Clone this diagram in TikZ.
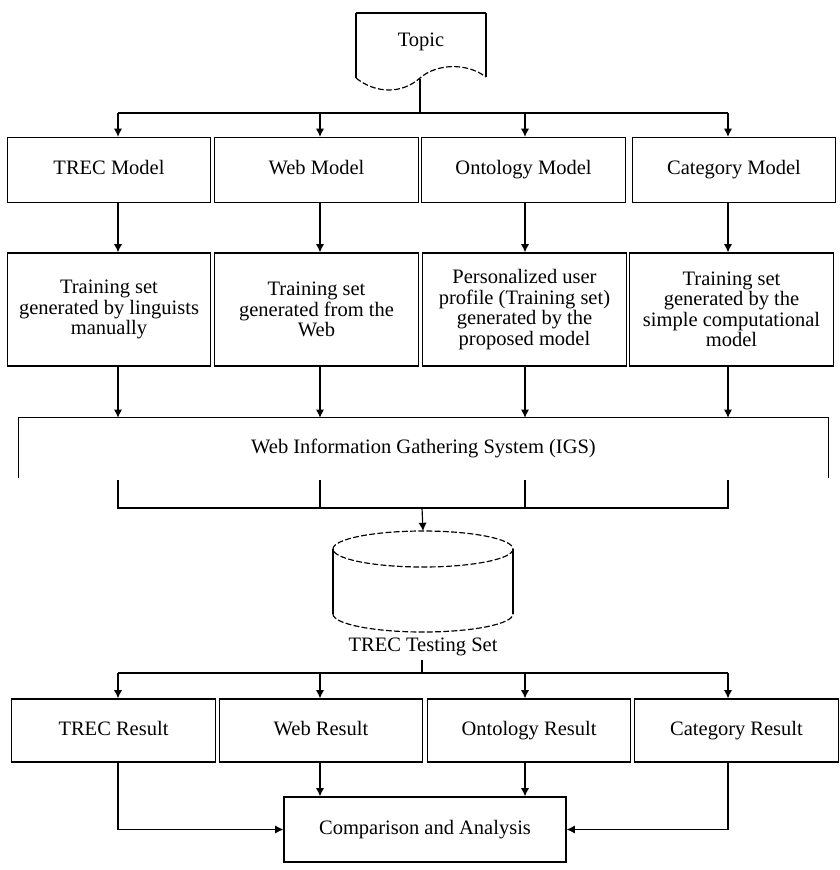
\documentclass[tikz,border=0pt]{standalone}
\usepackage{fontspec}
\setmainfont{Liberation Serif}
\usetikzlibrary{arrows.meta}

\begin{document}
\begin{tikzpicture}[x=0.03cm, y=-0.03cm,
  every node/.style={font=\fontsize{17.5}{17.5}\selectfont, align=center},
  box/.style={draw, line width=1.1pt, minimum width=6.1cm, inner sep=0pt},
  onebox/.style={box, text height=12pt, text depth=4pt},
  conn/.style={line width=1pt},
  arr/.style={conn, -{Latex[length=7pt, width=7pt]}}]
  \useasboundingbox (0,0) rectangle (839,870);

  % bus positions
  \coordinate (c1) at (118,0);
  \coordinate (c2) at (320,0);
  \coordinate (c3) at (525,0);
  \coordinate (c4) at (728,0);

  % topic document
  \node[text height=12pt, text depth=4pt] (topic) at (421,42) {Topic};
  \draw[conn] (356,78) -- (356,13);
  \draw[line width=1.6pt] (356,13) -- (486,13);
  \draw[conn] (486,13) -- (486,77);
  \draw[conn, dash pattern=on 5pt off 2pt] (356,78) .. controls (376,94) and (402,94) .. (420,78)
    .. controls (436,64) and (466,62) .. (486,77);
  \coordinate (topb) at (420,79);
  \coordinate (bus1) at (420,113);
  \draw[conn] (topb) -- (bus1);
  \draw[conn] (bus1 -| c1) -- (bus1 -| c4);

  % models
  \node[onebox, minimum height=1.95cm] (mTREC) at (109,170) {TREC Model};
  \node[onebox, minimum height=1.95cm] (mWeb) at (316.5,170) {Web Model};
  \node[onebox, minimum height=1.95cm] (mOnto) at (523.5,170) {Ontology Model};
  \node[onebox, minimum height=1.95cm] (mCat) at (734,170) {Category Model};
  \draw[arr] (bus1 -| c1) -- (mTREC.north -| c1);
  \draw[arr] (bus1 -| c2) -- (mWeb.north -| c2);
  \draw[arr] (bus1 -| c3) -- (mOnto.north -| c3);
  \draw[arr] (bus1 -| c4) -- (mCat.north -| c4);

  % training sets
  \node[box, minimum height=3.39cm] (tTREC) at (109,309.5) {Training set\\generated by linguists\\manually};
  \node[box, minimum height=3.39cm] (tWeb) at (316.5,309.5) {Training set\\generated from the\\Web};
  \node[box, minimum height=3.39cm] (tOnto) at (524.5,309.5) {Personalized user\\profile (Training set)\\generated by the\\proposed model};
  \node[box, minimum height=3.39cm] (tCat) at (731.5,309.5) {Training set\\generated by the\\simple computational\\model};
  \draw[arr] (mTREC.south -| c1) -- (tTREC.north -| c1);
  \draw[arr] (mWeb.south -| c2) -- (tWeb.north -| c2);
  \draw[arr] (mOnto.south -| c3) -- (tOnto.north -| c3);
  \draw[arr] (mCat.south -| c4) -- (tCat.north -| c4);

  % gathering system
  \node[minimum width=24.27cm, minimum height=1.8cm, inner sep=0pt] (igs) at (423.5,448)
    {Web Information Gathering System (IGS)};
  \draw[line width=1.1pt] (igs.south west) |- (igs.north east) -- (igs.south east);
  \draw[arr] (tTREC.south -| c1) -- (igs.north -| c1);
  \draw[arr] (tWeb.south -| c2) -- (igs.north -| c2);
  \draw[arr] (tOnto.south -| c3) -- (igs.north -| c3);
  \draw[arr] (tCat.south -| c4) -- (igs.north -| c4);
  \coordinate (tick) at (0,480);
  \coordinate (bus2) at (422,508);
  \draw[conn] (tick -| c1) |- (bus2 -| c4) -- (tick -| c4);
  \draw[conn] (tick -| c2) -- (bus2 -| c2);
  \draw[conn] (tick -| c3) -- (bus2 -| c3);

  % testing set
  \coordinate (dbtop) at (423,531);
  \draw[arr] (bus2) -- (dbtop);
  \draw[conn, dash pattern=on 5pt off 2pt] (423,549) ellipse [x radius=90, y radius=18];
  \draw[conn] (333,549) -- (333,614);
  \draw[conn] (513,549) -- (513,614);
  \draw[conn, dash pattern=on 5pt off 2pt] (333,614) arc [start angle=180, end angle=360, x radius=90, y radius=-18];
  \node (tset) at (423,647) {TREC Testing Set};
  \coordinate (bus3) at (422,673);
  \draw[conn] (tset.south -| bus3) -- (bus3);
  \draw[conn] (bus3 -| c1) -- (bus3 -| c4);

  % results
  \node[onebox, minimum height=1.89cm] (rTREC) at (113.5,730.5) {TREC Result};
  \node[onebox, minimum height=1.89cm] (rWeb) at (321,730.5) {Web Result};
  \node[onebox, minimum height=1.89cm] (rOnto) at (529,730.5) {Ontology Result};
  \node[onebox, minimum height=1.89cm] (rCat) at (736.5,730.5) {Category Result};
  \draw[arr] (bus3 -| c1) -- (rTREC.north -| c1);
  \draw[arr] (bus3 -| c2) -- (rWeb.north -| c2);
  \draw[arr] (bus3 -| c3) -- (rOnto.north -| c3);
  \draw[arr] (bus3 -| c4) -- (rCat.north -| c4);

  % comparison
  \node[onebox, minimum width=8.46cm, minimum height=1.95cm] (comp) at (425,829.5) {Comparison and Analysis};
  \draw[arr] (rTREC.south -| c1) |- (comp.west);
  \draw[arr] (rWeb.south -| c2) -- (comp.north -| c2);
  \draw[arr] (rOnto.south -| c3) -- (comp.north -| c3);
  \draw[arr] (rCat.south -| c4) |- (comp.east);
\end{tikzpicture}
\end{document}
